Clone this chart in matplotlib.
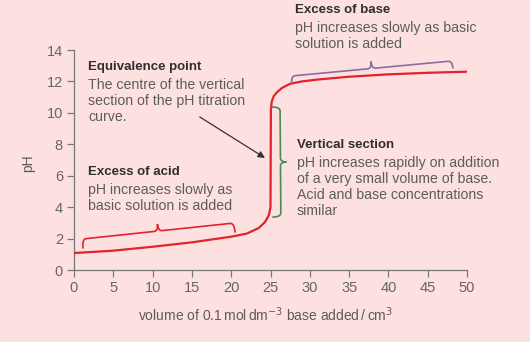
import matplotlib
matplotlib.use("Agg")
import matplotlib.pyplot as plt
import numpy as np
from matplotlib.path import Path
from matplotlib.patches import PathPatch
from matplotlib.transforms import IdentityTransform

# Titration of strong acid with 0.1 mol dm-3 base
volume = [0, 5, 10, 15, 20, 22, 23.5, 24.3, 24.8, 25.0, 25.05, 25.15, 25.4,
          25.8, 26.5, 27.5, 29, 31, 35, 40, 45, 50]
ph = [1.08, 1.23, 1.48, 1.76, 2.12, 2.32, 2.67, 3.05, 3.5, 4.0, 10.2, 10.7,
      11.05, 11.3, 11.6, 11.85, 12.0, 12.12, 12.3, 12.45, 12.55, 12.62]

x_ticks = [0, 5, 10, 15, 20, 25, 30, 35, 40, 45, 50]
y_ticks = [0, 2, 4, 6, 8, 10, 12, 14]

BG = "#fde1e1"
RED = "#e3222d"
PURPLE = "#8a6c9e"
GREEN = "#4a8a55"
GREY = "#5c5c5c"
DARK = "#2e2e2e"

BODY = "Liberation Sans"

fig = plt.figure(figsize=(5.3, 3.42), dpi=100, facecolor=BG)
ax = fig.add_axes([74 / 530, 1 - 270 / 342, 393 / 530, 220 / 342])
ax.set_facecolor(BG)

ax.plot(volume, ph, color=RED, lw=1.6, solid_capstyle="round", zorder=3)

ax.set_xlim(0, 50)
ax.set_ylim(0, 14)
ax.set_xticks(x_ticks)
ax.set_yticks(y_ticks)
for side in ("top", "right"):
    ax.spines[side].set_visible(False)
for side in ("left", "bottom"):
    ax.spines[side].set_color("#777777")
    ax.spines[side].set_linewidth(0.9)
ax.tick_params(colors="#777777", width=0.9, length=5, labelcolor="#666666",
               labelsize=10.5, pad=3)
for lab in ax.get_xticklabels() + ax.get_yticklabels():
    lab.set_family("Liberation Sans")

fig.text(28 / 530, 1 - 163 / 342, "pH", rotation=90, ha="center", va="center",
         color=GREY, fontsize=10, family=BODY)
fig.text(266 / 530, 1 - 315 / 342,
         r"volume of 0.1$\,$mol$\,$dm$^{-3}$ base added$\,$/$\,$cm$^{3}$",
         ha="center", va="center", color=GREY, fontsize=10, family=BODY)


def brace(p0, p1, color, depth=8, tip=7, r=4):
    # curly brace between two data points, bulging to the left of p0->p1
    a = ax.transData.transform(p0)
    b = ax.transData.transform(p1)
    u = (b - a) / np.hypot(*(b - a))
    n = np.array([-u[1], u[0]])
    L = np.hypot(*(b - a))

    def P(s, t):
        return a + u * s + n * t

    m = L / 2
    verts = [P(0, 0), P(0, depth), P(r, depth),
             P(m - r, depth), P(m, depth), P(m, depth + tip),
             P(m, depth), P(m + r, depth),
             P(L - r, depth), P(L, depth), P(L, 0)]
    codes = [Path.MOVETO, Path.CURVE3, Path.CURVE3,
             Path.LINETO, Path.CURVE3, Path.CURVE3,
             Path.CURVE3, Path.CURVE3,
             Path.LINETO, Path.CURVE3, Path.CURVE3]
    patch = PathPatch(Path(verts, codes), fill=False, edgecolor=color, lw=1.2,
                      transform=IdentityTransform(), capstyle="round")
    fig.add_artist(patch)


brace((1.15, 1.40), (20.5, 2.42), RED, depth=9, tip=7)
brace((27.7, 11.9), (48.2, 12.86), PURPLE, depth=7, tip=7)
brace((25.2, 10.37), (25.3, 3.37), GREEN, depth=8, tip=6)

ax.annotate("", xy=(24.3, 7.13), xytext=(16.0, 9.74),
            arrowprops=dict(arrowstyle="-|>", color="#333333", lw=0.9,
                            mutation_scale=10, shrinkA=0, shrinkB=0))


def label(x, y, head, body):
    fig.text(x / 530, 1 - y / 342, head, ha="left", va="top", color=DARK,
             fontsize=9.5, fontweight="bold", family=BODY)
    fig.text(x / 530, 1 - (y + 17) / 342, body, ha="left", va="top", color=GREY,
             fontsize=10.2, family=BODY, linespacing=1.17)


label(88, 61, "Equivalence point",
      "The centre of the vertical\nsection of the pH titration\ncurve.")
label(88, 166, "Excess of acid",
      "pH increases slowly as\nbasic solution is added")
label(295, 4, "Excess of base",
      "pH increases slowly as basic\nsolution is added")
label(297, 139, "Vertical section",
      "pH increases rapidly on addition\nof a very small volume of base.\n"
      "Acid and base concentrations\nsimilar")

fig.savefig("out.png", dpi=100, facecolor=BG)
